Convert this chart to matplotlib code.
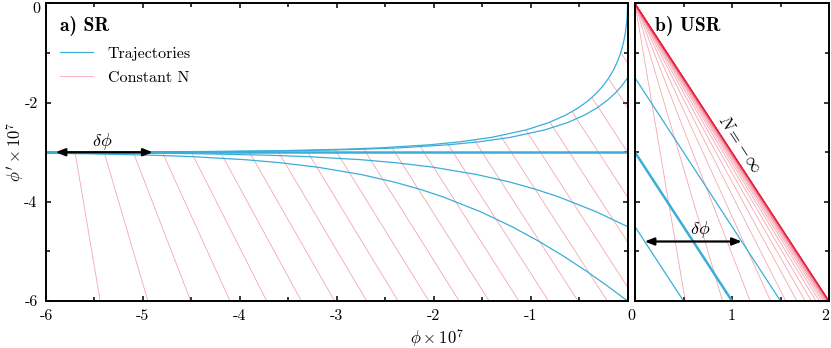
"""
Phase-space portraits: slow roll (SR) vs ultra slow roll (USR)
Trajectories in (phi, phi') and lines of constant number of e-folds N.
"""
import matplotlib
matplotlib.use('Agg')
import matplotlib.pyplot as plt
from matplotlib.patches import Polygon

plt.rcParams['font.family'] = ['cmr10', 'DejaVu Serif']
plt.rcParams['mathtext.fontset'] = 'cm'
plt.rcParams['axes.unicode_minus'] = False
plt.rcParams['axes.formatter.use_mathtext'] = True

BLUE = '#3aaed8'
RED  = '#e8213f'

# ── SR trajectories (phi, phi'), all units x 1e7 ─────────────────────────────
# start at phi = 0 with phi'_0 in {0, -1.5, -3, -4.5, -6}, attractor phi' = -3
SR_A_PHI = [0.0, -0.00005, -0.0002, -0.0005, -0.0013, -0.0026, -0.0054, -0.0134,
            -0.0231, -0.0376, -0.0567, -0.0808, -0.1108, -0.1478, -0.1931,
            -0.2485, -0.3163, -0.4000, -0.5040, -0.6363, -0.8094, -1.0471,
            -1.4026, -1.7293, -2.0457, -2.5366, -2.9320, -3.6152, -4.3033,
            -5.2166, -5.9088, -6.1317]
SR_A_DPHI = [0.0, -0.03, -0.06, -0.09, -0.15, -0.21, -0.3, -0.45, -0.6, -0.75,
             -0.9, -1.05, -1.2, -1.35, -1.5, -1.65, -1.8, -1.95, -2.1, -2.25,
             -2.4, -2.55, -2.7, -2.79, -2.85, -2.91, -2.94, -2.97, -2.985,
             -2.994, -2.997, -2.9976]

SR_B_PHI = [0.0, -0.0554, -0.1232, -0.2069, -0.3109, -0.4432, -0.6163, -0.8540,
            -1.2095, -1.5362, -1.8526, -2.3435, -2.7389, -3.4221, -4.1102,
            -5.0235, -5.7157, -6.072]
SR_B_DPHI = [-1.5, -1.65, -1.8, -1.95, -2.1, -2.25, -2.4, -2.55, -2.7, -2.79,
             -2.85, -2.91, -2.94, -2.97, -2.985, -2.994, -2.997, -2.9979]

SR_C_PHI = [0.0, -0.2054, -0.4231, -0.6567, -0.9108, -1.1931, -1.5163, -1.9040,
            -2.1363, -2.4094, -2.7471, -3.2026, -3.5893, -3.9457, -4.4766,
            -4.8920, -5.5952, -6.110]
SR_C_DPHI = [-6.0, -5.7, -5.4, -5.1, -4.8, -4.5, -4.2, -3.9, -3.75, -3.6, -3.45,
             -3.3, -3.21, -3.15, -3.09, -3.06, -3.03, -3.018]

SR_D_PHI = [0.0, -0.3232, -0.7109, -0.9432, -1.2163, -1.5540, -2.0095, -2.3962,
            -2.7526, -3.2835, -3.6989, -4.4021, -4.9169, -5.613, -6.0195]
SR_D_DPHI = [-4.5, -4.2, -3.9, -3.75, -3.6, -3.45, -3.3, -3.21, -3.15, -3.09,
             -3.06, -3.03, -3.018, -3.009, -3.006]

SR_ATTRACTOR = -3.0

# SR constant-N lines: phi where each crosses phi' = -3, and half-span in phi
# between phi' = 0 (left end) and phi' = -6 (right end)
SR_N_CROSS = [-5.7, -5.4, -5.1, -4.8, -4.5, -4.2, -3.9, -3.6, -3.3, -3.0, -2.7,
              -2.4, -2.1, -1.8, -1.5, -1.2, -0.9, -0.6, -0.3, 0.0, 0.3, 0.6]
SR_N_HALF = [0.2592, 0.4512, 0.5934, 0.6988, 0.7769, 0.8347, 0.8775, 0.9093,
             0.9328, 0.9502, 0.9631, 0.9727, 0.9798, 0.9850, 0.9889, 0.9918,
             0.9939, 0.9955, 0.9967, 0.9975, 0.9982, 0.9986]

# ── USR: straight trajectories (slope -3) and fan of constant-N lines ────────
USR_TRAJ_START = [-1.5, -3.0, -4.5]          # phi' at phi = 0
USR_TRAJ_END   = [1.5, 1.0, 0.5]             # phi at phi' = -6
USR_TRAJ_LW    = [0.9, 1.8, 0.9]
USR_N_BOTTOM = [0.5184, 0.9024, 1.1869, 1.3976, 1.5537, 1.6694, 1.7551, 1.8186,
                1.8656, 1.9004, 1.9262, 1.9454, 1.9596, 1.9700, 1.9778, 1.9836,
                1.9878, 1.9910, 1.9933, 1.9950, 1.9963, 1.9973, 1.9980, 1.9985,
                1.9989, 1.9992, 1.9994, 1.9996, 1.9997, 1.9998, 2.0]

TICK_FS = 11.5

# ── layout ───────────────────────────────────────────────────────────────────
fig = plt.figure(figsize=(8.31, 3.48), dpi=100)
ax_a = fig.add_axes([0.05535, 0.13506, 0.6998, 0.8549])
ax_b = fig.add_axes([0.76414, 0.13506, 0.2335, 0.8549])

for ax in (ax_a, ax_b):
    ax.set_ylim(-6, 0)
    for sp in ax.spines.values():
        sp.set_linewidth(1.4)
    ax.tick_params(which='both', direction='in', top=True, right=True,
                   width=1.1, labelsize=TICK_FS)
    ax.tick_params(which='major', length=3.5)
    ax.tick_params(which='minor', length=3)
    ax.tick_params(axis='x', pad=6)
    ax.tick_params(axis='y', pad=6)

# ── a) SR ────────────────────────────────────────────────────────────────────
ax_a.set_xlim(-6, 0)
clip = Polygon(list(zip(SR_A_PHI, SR_A_DPHI)) + [(-6.5, -2.998), (-6.5, -7), (0.5, -7), (0.5, 0)],
               closed=True, transform=ax_a.transData)
for c, h in zip(SR_N_CROSS, SR_N_HALF):
    ln, = ax_a.plot([c - h, c + h], [0, -6], color=RED, lw=0.6, alpha=0.4)
    ln.set_clip_path(clip)

for xs, ys in [(SR_A_PHI, SR_A_DPHI), (SR_B_PHI, SR_B_DPHI),
               (SR_C_PHI, SR_C_DPHI), (SR_D_PHI, SR_D_DPHI)]:
    ax_a.plot(xs, ys, color=BLUE, lw=0.9)
ax_a.plot([-6.2, 0], [SR_ATTRACTOR, SR_ATTRACTOR], color=BLUE, lw=1.8)

ax_a.set_xticks([-6, -5, -4, -3, -2, -1, 0], ['-6', '-5', '-4', '-3', '-2', '-1', ''])
ax_a.set_xticks([-5.5, -4.5, -3.5, -2.5, -1.5, -0.5], minor=True)
ax_a.set_yticks([-6, -4, -2, 0], ['-6', '-4', '-2', ''])
ax_a.set_yticks([-5, -3, -1], minor=True)
# top "0" sits a little below the corner, as in the original
ax_a.annotate('0', xy=(0, 1), xycoords='axes fraction', xytext=(-4.3, -4),
              textcoords='offset points', ha='right', va='center', fontsize=TICK_FS)

ax_a.annotate('', xy=(-5.9, -3.0), xytext=(-4.9, -3.0),
              arrowprops=dict(arrowstyle='<|-|>,head_length=0.55,head_width=0.22',
                              color='black', lw=1.6, shrinkA=0, shrinkB=0))
ax_a.text(-5.42, -2.78, r'$\delta\phi$', fontsize=13, ha='center', va='center')

ax_a.text(0.024, 0.925, 'a) SR', transform=ax_a.transAxes, family='cmb10',
          fontsize=14, ha='left', va='center')
ax_a.plot([], [], color=BLUE, lw=0.9, label='Trajectories')
ax_a.plot([], [], color=RED, lw=0.6, alpha=0.4, label='Constant N')
ax_a.legend(loc='upper left', bbox_to_anchor=(0.024, 0.855), frameon=False,
            borderpad=0, borderaxespad=0, handlelength=2.1, handletextpad=0.9,
            labelspacing=0.6, fontsize=11.5)

# ── b) USR ───────────────────────────────────────────────────────────────────
ax_b.set_xlim(0, 2)
for xb in USR_N_BOTTOM:
    ax_b.plot([0, xb], [0, -6], color=RED, lw=0.6, alpha=0.4)
for y0, x1, lw in zip(USR_TRAJ_START, USR_TRAJ_END, USR_TRAJ_LW):
    ax_b.plot([0, x1], [y0, -6], color=BLUE, lw=lw)

ax_b.set_xticks([0, 1, 2], ['', '1', ''])
ax_b.set_xticks([0.5, 1.5], minor=True)
ax_b.set_yticks([-6, -4, -2, 0], [])
ax_b.set_yticks([-5, -3, -1], minor=True)

ax_b.annotate('', xy=(0.1, -4.8), xytext=(1.1, -4.8),
              arrowprops=dict(arrowstyle='<|-|>,head_length=0.55,head_width=0.22',
                              color='black', lw=1.6, shrinkA=0, shrinkB=0))
ax_b.text(0.67, -4.56, r'$\delta\phi$', fontsize=13, ha='center', va='center')
ax_b.text(1.08, -2.82, r'$N=-\infty$', fontsize=12.5, ha='center', va='center',
          rotation=-57)
ax_b.text(0.103, 0.925, 'b) USR', transform=ax_b.transAxes, family='cmb10',
          fontsize=14, ha='left', va='center')

# shared "0" between the two panels, and "2" kept inside the figure
ax_b.annotate('0', xy=(0, 0), xycoords='axes fraction', xytext=(-2.9, -6),
              textcoords='offset points', ha='center', va='top', fontsize=TICK_FS)
ax_b.annotate('2', xy=(1, 0), xycoords='axes fraction', xytext=(-2.5, -6),
              textcoords='offset points', ha='center', va='top', fontsize=TICK_FS)

fig.text(0.526, 0.028, r'$\phi \times 10^7$', ha='center', va='center', fontsize=12)
fig.text(0.018, 0.563, r"$\phi' \times 10^7$", ha='center', va='center',
         rotation=90, fontsize=12)

fig.savefig('out.png', dpi=100)
